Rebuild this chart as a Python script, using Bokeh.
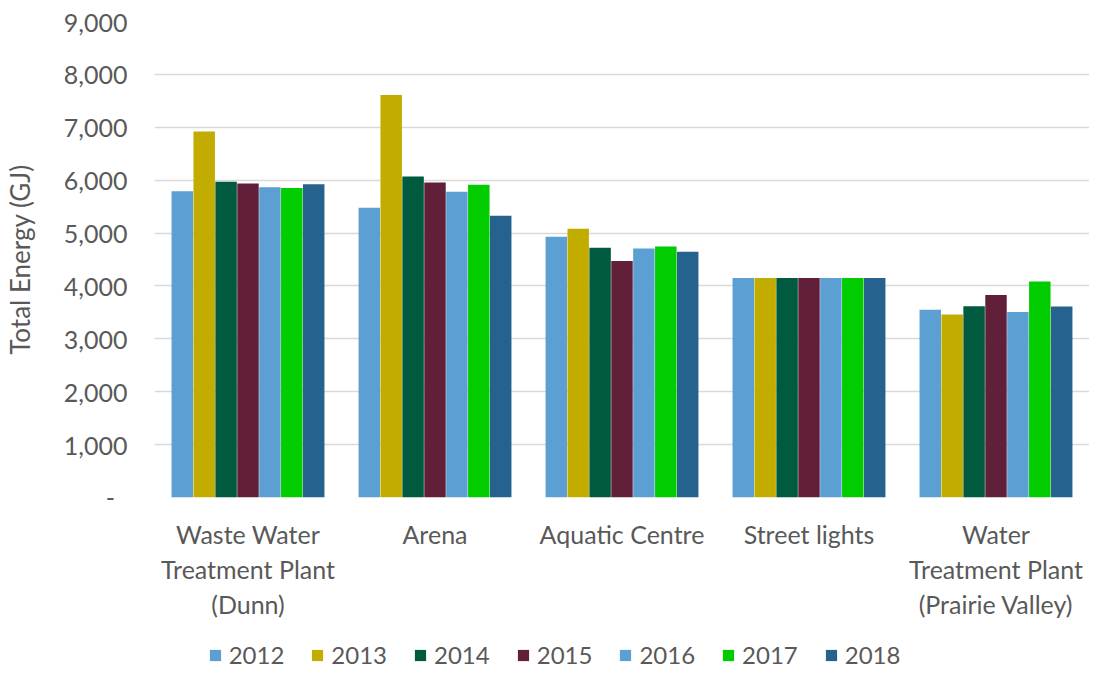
from bokeh.plotting import figure
from bokeh.layouts import column
from bokeh.models import (ColumnDataSource, Legend, LegendItem, FixedTicker, NumeralTickFormatter,
                          Range1d, FactorRange)
from bokeh.core.properties import value
from bokeh.transform import dodge
from bokeh.embed import file_html
from bokeh.resources import INLINE

categories = ["Waste Water Treatment Plant (Dunn)", "Arena", "Aquatic Centre", "Street lights",
              "Water Treatment Plant (Prairie Valley)"]
label_line1 = ["Waste Water", "Arena", "Aquatic Centre", "Street lights", "Water"]
label_line2 = ["Treatment Plant", "", "", "", "Treatment Plant"]
label_line3 = ["(Dunn)", "", "", "", "(Prairie Valley)"]
years = ["2012", "2013", "2014", "2015", "2016", "2017", "2018"]
v2012 = [5790, 5480, 4930, 4150, 3550]
v2013 = [6920, 7610, 5080, 4150, 3460]
v2014 = [5970, 6070, 4720, 4150, 3615]
v2015 = [5935, 5955, 4470, 4150, 3830]
v2016 = [5865, 5780, 4710, 4150, 3505]
v2017 = [5850, 5915, 4745, 4150, 4085]
v2018 = [5925, 5325, 4645, 4150, 3610]
colors = ["#5B9FD3", "#C3AC00", "#005A3F", "#621F3A", "#5B9FD3", "#00CC00", "#25628E"]

series = [v2012, v2013, v2014, v2015, v2016, v2017, v2018]
data = {"cat": categories}
for y, s in zip(years, series):
    data["y" + y] = s
src = ColumnDataSource(data)

FONT = "Lato"
TXT = "#595959"
xr = FactorRange(*categories, range_padding=0)

# ---- main plot ----
p = figure(frame_width=935, frame_height=476, x_range=xr,
           y_range=Range1d(0, 9000), output_backend="svg", toolbar_location=None,
           min_border_left=149, min_border_right=0, min_border_top=21, min_border_bottom=14)
p.outline_line_color = None

bw = 0.82 / 7
for i, y in enumerate(years):
    p.vbar(x=dodge("cat", (i - 3) * bw, range=xr), top="y" + y, width=bw * 0.98,
           source=src, fill_color=colors[i], line_color=None)

p.xgrid.grid_line_color = None
p.ygrid.grid_line_color = "#D9D9D9"
p.ygrid.grid_line_width = 1.5
p.xaxis.visible = False

ya = p.yaxis[0]
ya.ticker = FixedTicker(ticks=list(range(0, 9001, 1000)))
ya.formatter = NumeralTickFormatter(format="0,0")
ya.major_label_overrides = {0: "-\u2002"}
ya.axis_line_color = None
ya.major_tick_line_color = None
ya.minor_tick_line_color = None
ya.major_tick_out = 0
ya.major_tick_in = 0
ya.major_label_text_font = FONT
ya.major_label_text_font_size = "25px"
ya.major_label_text_color = TXT
ya.major_label_standoff = 27
ya.axis_label = "Total Energy (GJ)"
ya.axis_label_text_font = FONT
ya.axis_label_text_font_size = "26px"
ya.axis_label_text_font_style = "normal"
ya.axis_label_text_color = TXT
ya.axis_label_standoff = 25

# ---- strip below: category labels and legend ----
b = figure(frame_width=935, frame_height=161, x_range=xr, y_range=Range1d(161, 0),
           output_backend="svg", toolbar_location=None,
           x_axis_location=None, y_axis_location=None,
           min_border_left=149, min_border_right=0, min_border_top=0, min_border_bottom=0)
b.outline_line_color = None
for g in b.grid:
    g.visible = False

lab = ColumnDataSource(dict(cat=categories, l1=label_line1, l2=label_line2, l3=label_line3,
                            r1=[22] * 5, r2=[57] * 5, r3=[92] * 5))
for t, r in (("l1", "r1"), ("l2", "r2"), ("l3", "r3")):
    b.text(x="cat", y=r, text=t, source=lab, text_font=value(FONT), text_font_size=value("25px"),
           text_color=TXT, text_align="center", text_baseline="middle")

# legend proxies: zero-height bars that draw nothing in the strip
items = []
for i, y in enumerate(years):
    r = b.vbar(x=categories[:1], top=[0], bottom=[0], width=0.001, fill_color=colors[i], line_color=None)
    items.append(LegendItem(label=y, renderers=[r]))

legend = Legend(items=items, orientation="horizontal", location=(158, 3))
legend.label_text_font = FONT
legend.label_text_font_size = "24px"
legend.label_text_color = TXT
legend.glyph_width = 14
legend.glyph_height = 14
legend.label_standoff = 7
legend.spacing = 26
legend.padding = 0
legend.margin = 0
legend.border_line_color = None
legend.background_fill_alpha = 0
b.add_layout(legend, "center")

layout = column(p, b, spacing=0)
open("out.html", "w").write(file_html(layout, INLINE))
